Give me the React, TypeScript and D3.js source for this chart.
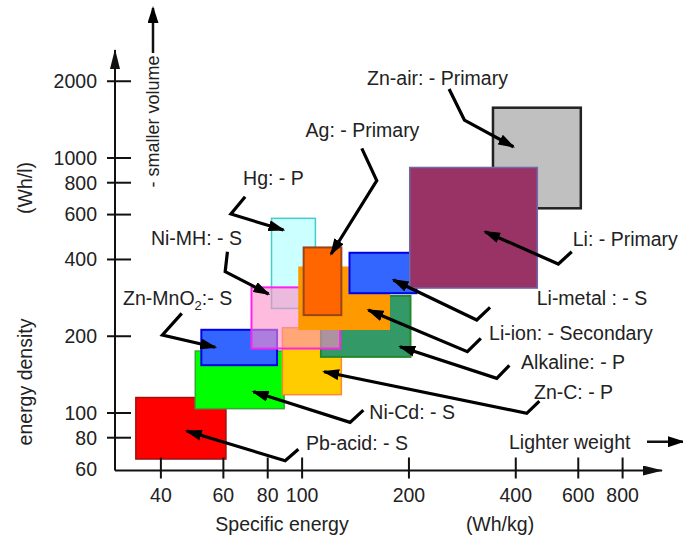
import React from 'react';
import * as d3 from 'd3';

// battery chemistries, ranges in Wh/kg (x) and Wh/l (y)
const chemistries = ['Pb-acid', 'Ni-Cd', 'Zn-MnO2', 'Zn-C', 'Alkaline', 'Hg', 'Ni-MH', 'Li-ion', 'Ag', 'Li-metal', 'Zn-air', 'Li'];
const whkgMin = [34, 50, 52, 88, 113, 82, 72, 98, 101, 136, 345, 201];
const whkgMax = [61, 89, 85, 129, 202, 109, 128, 176, 129, 210, 610, 460];
const whlMin = [66, 104, 154, 118, 166, 257, 179, 213, 242, 295, 635, 309];
const whlMax = [115, 175, 212, 216, 288, 580, 311, 373, 446, 425, 1575, 918];

// callout labels: text, anchor point and arrow path (all in Wh/kg, Wh/l)
const labelText = ['Pb-acid: - S', 'Ni-Cd: - S', 'Zn-MnO2:- S', 'Zn-C: - P', 'Alkaline: - P', 'Hg: - P', 'Ni-MH: - S', 'Li-ion: - Secondary', 'Ag: - Primary', 'Li-metal : - S', 'Zn-air: - Primary', 'Li: - Primary'];
const labelAt: [number, number][] = [
  [102.6, 76.1], [154.7, 101.2], [31.3, 282.5], [450.3, 121.2], [414, 158.9], [68.2, 835],
  [37.5, 485.6], [336.3, 206.5], [102.3, 1287.6], [458.2, 281.8], [152.4, 2053], [578.8, 481.3],
];
const arrowPts: [number, number][][] = [
  [[97.6, 72.1], [89.6, 65.0], [47.3, 85.0]],
  [[148.8, 102.7], [136.5, 91.9], [72.9, 121.2]],
  [[45.8, 246], [40.4, 202.3], [56.9, 181]],
  [[466.2, 111.4], [429.5, 99.7], [115.3, 145.2]],
  [[383.7, 153.8], [353.6, 136.8], [188.8, 182]],
  [[69.1, 705], [63.0, 603], [88.6, 522]],
  [[61.6, 429], [60.7, 358.2], [80.4, 292.9]],
  [[318.8, 196.3], [292.2, 174.0], [153.7, 253.4]],
  [[147.3, 1091.5], [162.3, 814.7], [120.7, 420.4]],
  [[338.5, 259.7], [310.5, 231.6], [180.8, 332.4]],
  [[259.5, 1865], [286.6, 1409], [393.8, 1107]],
  [[575.1, 429], [527.2, 384], [327.7, 514]],
];

const xTicks = [40, 60, 80, 100, 200, 400, 600, 800];
const yTicks = [60, 80, 100, 200, 400, 600, 800, 1000, 2000];

// draw order (back to front)
const drawOrder = ['Pb-acid', 'Ni-Cd', 'Zn-MnO2', 'Zn-C', 'Alkaline', 'Hg', 'Ni-MH', 'Li-ion', 'Ag', 'Li-metal', 'Zn-air', 'Li'];

const styles: Record<string, { fill: string; stroke: string; op?: number; sw?: number }> = {
  'Pb-acid': { fill: '#ff0000', stroke: '#a01010' },
  'Ni-Cd': { fill: '#00ff00', stroke: '#33aa33' },
  'Zn-MnO2': { fill: '#3366ff', stroke: '#0000ee', sw: 2 },
  'Zn-C': { fill: '#ffcc00', stroke: '#ff8833' },
  'Alkaline': { fill: '#339966', stroke: '#22882a', sw: 2 },
  'Hg': { fill: '#ccffff', stroke: '#44cccc' },
  'Ni-MH': { fill: '#ff8dc6', stroke: '#ff22ee', op: 0.6, sw: 2 },
  'Li-ion': { fill: '#ff9900', stroke: '#ff9900' },
  'Ag': { fill: '#ff6600', stroke: '#99441a', sw: 2 },
  'Li-metal': { fill: '#3366ff', stroke: '#0000ee', sw: 2 },
  'Zn-air': { fill: '#c0c0c0', stroke: '#222', sw: 2.5 },
  'Li': { fill: '#993366', stroke: '#6f6aa8' },
};

const W = 683;
const H = 538;
const FONT = '"Liberation Sans", Arial, sans-serif';
const TXT = '#222';

export default function App() {
  const x = d3.scaleLog().domain([29.7, 1000]).range([115, 657]);
  const y = d3.scaleLog().domain([59.5, 2652]).range([470.5, 50]);
  const x0 = x.range()[0];
  const y0 = y.range()[0];
  const line = d3.line<[number, number]>().x(d => x(d[0])).y(d => y(d[1]));

  return (
    <svg width={W} height={H} style={{ position: 'absolute', left: 0, top: 0, background: '#fff' }} fontFamily={FONT}>
      <defs>
        <marker id="head" markerUnits="userSpaceOnUse" markerWidth={17} markerHeight={11} refX={15} refY={5.5} orient="auto">
          <path d="M0,0 L17,5.5 L0,11 z" fill="#000" />
        </marker>
        <marker id="axhead" markerUnits="userSpaceOnUse" markerWidth={20} markerHeight={10} refX={19} refY={5} orient="auto">
          <path d="M0,0 L20,5 L0,10 z" fill="#111" />
        </marker>
      </defs>

      {/* boxes */}
      {drawOrder.map(name => {
        const i = chemistries.indexOf(name);
        const s = styles[name];
        return (
          <rect key={name} x={x(whkgMin[i])} y={y(whlMax[i])} width={x(whkgMax[i]) - x(whkgMin[i])} height={y(whlMin[i]) - y(whlMax[i])}
            fill={s.fill} fillOpacity={s.op ?? 1} stroke={s.stroke} strokeWidth={s.sw ?? 1.5} />
        );
      })}

      {/* callouts */}
      {chemistries.map((name, i) => (
        <g key={'c' + name}>
          <path d={line(arrowPts[i]) || ''} fill="none" stroke="#000" strokeWidth={3.2} markerEnd="url(#head)" />
          <text x={x(labelAt[i][0])} y={y(labelAt[i][1])} dy="0.35em" fontSize={19.5} fill={TXT}>
            {name === 'Zn-MnO2' ? (
              <>Zn-MnO<tspan fontSize={13} dy={5}>2</tspan><tspan dy={-5}>:- S</tspan></>
            ) : labelText[i]}
          </text>
        </g>
      ))}

      {/* axes */}
      <line x1={x0} y1={y0} x2={x0} y2={50} stroke="#111" strokeWidth={2} markerEnd="url(#axhead)" />
      <line x1={x0} y1={y0} x2={662} y2={y0} stroke="#111" strokeWidth={2} markerEnd="url(#axhead)" />
      {yTicks.map(t => (
        <g key={'y' + t}>
          {t !== 60 && <line x1={x0 - 8} x2={x0 + 16} y1={y(t)} y2={y(t)} stroke="#111" strokeWidth={2} />}
          <text x={97} y={y(t)} dy="0.35em" textAnchor="end" fontSize={19.5} fill={TXT}>{t}</text>
        </g>
      ))}
      {xTicks.map(t => (
        <g key={'x' + t}>
          <line x1={x(t)} x2={x(t)} y1={y0 - 13} y2={y0 + 8} stroke="#111" strokeWidth={2} />
          <text x={x(t)} y={495} dy="0.35em" textAnchor="middle" fontSize={19.5} fill={TXT}>{t}</text>
        </g>
      ))}

      {/* axis titles */}
      <text x={282} y={524} dy="0.35em" textAnchor="middle" fontSize={19.5} fill={TXT}>Specific energy</text>
      <text x={500} y={524} dy="0.35em" textAnchor="middle" fontSize={19.5} fill={TXT}>(Wh/kg)</text>
      <text transform="translate(25,382) rotate(-90)" dy="0.35em" textAnchor="middle" fontSize={19.5} fill={TXT}>energy density</text>
      <text transform="translate(25,188) rotate(-90)" dy="0.35em" textAnchor="middle" fontSize={19.5} fill={TXT}>(Wh/l)</text>

      <text x={509} y={441.7} dy="0.35em" fontSize={19.5} fill={TXT}>Lighter weight</text>
      <line x1={647} y1={441.7} x2={683} y2={441.7} stroke="#111" strokeWidth={2.5} markerEnd="url(#head)" />

      <text transform="translate(153,121.5) rotate(-90)" dy="0.35em" textAnchor="middle" fontSize={18} fill={TXT}>- smaller volume</text>
      <line x1={153} y1={53} x2={153} y2={8} stroke="#111" strokeWidth={2.5} markerEnd="url(#head)" />
    </svg>
  );
}
